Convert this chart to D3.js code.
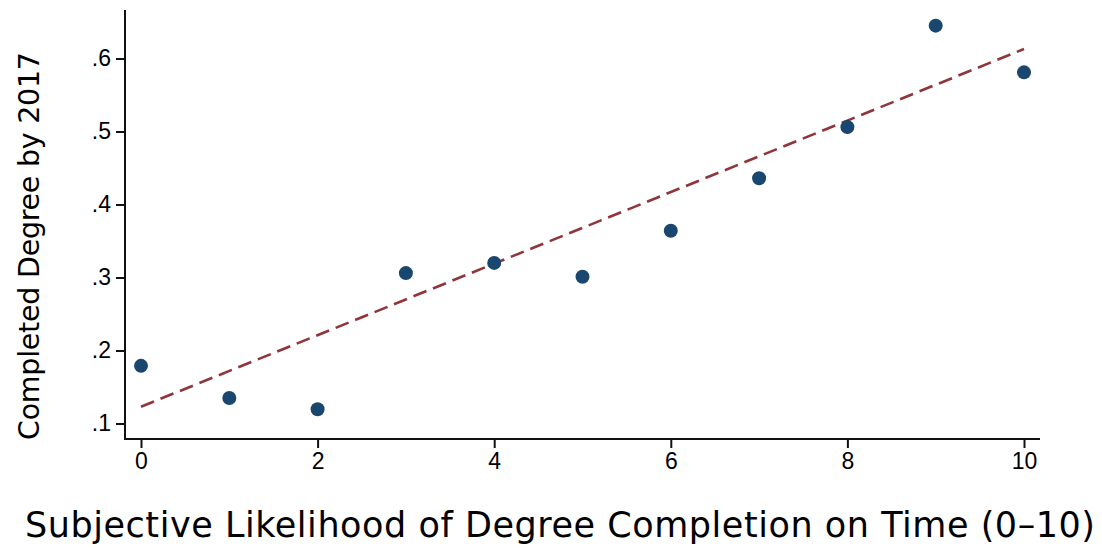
<!DOCTYPE html>
<html>
<head>
<meta charset="utf-8">
<script src="https://cdn.jsdelivr.net/npm/d3@7"></script>
<style>
  html, body { margin: 0; padding: 0; background: #fff; }
  svg { display: block; }
</style>
</head>
<body>
<svg id="chart" width="1102" height="548"></svg>
<script>
// Binned scatter: share with completed degree by subjective likelihood score
const likelihood = [0, 1, 2, 3, 4, 5, 6, 7, 8, 9, 10];
const completed = [0.179, 0.135, 0.1195, 0.306, 0.320, 0.301, 0.364, 0.436, 0.506, 0.645, 0.581];

// Linear fit endpoints (x, fitted value)
const fitX = [0, 10];
const fitY = [0.123, 0.613];

const xTicks = [0, 2, 4, 6, 8, 10];
const yTicks = [0.1, 0.2, 0.3, 0.4, 0.5, 0.6];
const yTickLabels = [".1", ".2", ".3", ".4", ".5", ".6"];

const xTitle = "Subjective Likelihood of Degree Completion on Time (0\u201310)";
const yTitle = "Completed Degree by 2017";

const svg = d3.select("#chart");

const plot = { left: 125, right: 1040, top: 10, bottom: 439 };

const x = d3.scaleLinear().domain([0, 10]).range([141, 1024]);
const y = d3.scaleLinear().domain([0.1, 0.6]).range([423.5, 58.5]);

const titleFont = "'DejaVu Sans', sans-serif";
const tickFont = "'Liberation Sans', Arial, sans-serif";
const axisColor = "#111";

function styleTicks(g) {
  g.attr("font-size", null).attr("font-family", null);
  g.selectAll(".tick text")
    .style("font-family", tickFont)
    .style("font-size", "23px")
    .style("fill", "#000");
  g.selectAll(".tick line").attr("stroke", axisColor).attr("stroke-width", 2);
}

// Y axis
const yAxis = svg.append("g")
  .attr("transform", `translate(${plot.left},0)`)
  .call(d3.axisLeft(y).tickValues(yTicks)
    .tickFormat((d, i) => yTickLabels[i])
    .tickSize(9).tickPadding(5));
yAxis.select(".domain").remove();
yAxis.append("line")
  .attr("x1", 0).attr("x2", 0)
  .attr("y1", plot.top).attr("y2", plot.bottom + 1)
  .attr("stroke", axisColor).attr("stroke-width", 2);
styleTicks(yAxis);

// X axis
const xAxis = svg.append("g")
  .attr("transform", `translate(0,${plot.bottom})`)
  .call(d3.axisBottom(x).tickValues(xTicks)
    .tickFormat(d3.format("d"))
    .tickSize(9).tickPadding(5));
xAxis.select(".domain").remove();
xAxis.append("line")
  .attr("x1", plot.left - 1).attr("x2", plot.right)
  .attr("y1", 0).attr("y2", 0)
  .attr("stroke", axisColor).attr("stroke-width", 2);
styleTicks(xAxis);

// Fitted line
const fitData = fitX.map((v, i) => [v, fitY[i]]);
svg.append("path")
  .datum(fitData)
  .attr("fill", "none")
  .attr("stroke", "#90353b")
  .attr("stroke-width", 2.6)
  .attr("stroke-dasharray", "14 7")
  .attr("d", d3.line().x(d => x(d[0])).y(d => y(d[1])));

// Points
svg.append("g")
  .selectAll("circle")
  .data(likelihood)
  .join("circle")
  .attr("cx", d => x(d))
  .attr("cy", (d, i) => y(completed[i]))
  .attr("r", 7)
  .attr("fill", "#1a476f");

// Axis titles
svg.append("text")
  .attr("x", 560).attr("y", 537)
  .attr("text-anchor", "middle")
  .attr("font-family", titleFont)
  .attr("font-size", 35)
  .attr("textLength", 1070)
  .attr("lengthAdjust", "spacing")
  .attr("fill", "#000")
  .text(xTitle);

svg.append("text")
  .attr("transform", "translate(39,246) rotate(-90)")
  .attr("text-anchor", "middle")
  .attr("font-family", titleFont)
  .attr("font-size", 28.5)
  .attr("textLength", 388)
  .attr("lengthAdjust", "spacing")
  .attr("fill", "#000")
  .text(yTitle);
</script>
</body>
</html>
